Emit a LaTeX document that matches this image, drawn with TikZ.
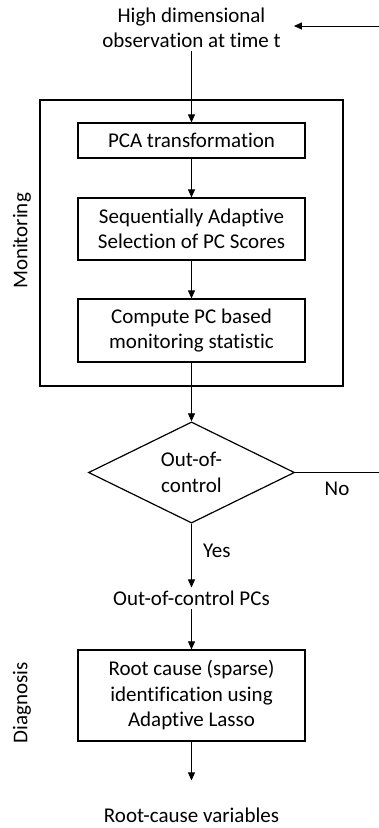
\documentclass[tikz,border=0pt]{standalone}
\usepackage{fontspec}
\setmainfont{Carlito}[Ligatures=NoCommon]
\usetikzlibrary{arrows.meta,shapes.geometric}
\begin{document}
\begin{tikzpicture}[x=1pt,y=-1pt,
  font=\fontsize{21}{25.5}\selectfont,
  stepbox/.style={draw,line width=1.2pt,minimum width=227pt,align=center,inner sep=0pt},
  plain/.style={align=center,inner sep=3pt},
  arr/.style={-{Triangle[length=8pt,width=7pt]},line width=0.8pt},
  side/.style={rotate=90}]
\useasboundingbox (0,0) rectangle (379,828);
\node (mon) [draw,line width=1.2pt,minimum width=303pt,minimum height=286pt] at (191.5,243) {};
\node (obs) [plain] at (191.5,28) {High dimensional\\observation at time t};
\node (pca) [stepbox,minimum height=35pt] at (191.5,140.5) {PCA transformation};
\node (sel) [stepbox,minimum height=62pt] at (191.5,229) {Sequentially Adaptive\\Selection of PC Scores};
\node (stat) [stepbox,minimum height=63pt] at (191.5,330.5) {Compute PC based\\monitoring statistic};
\node (dec) [draw,diamond,line width=1.2pt,minimum width=206pt,minimum height=81pt,inner sep=0pt,align=center] at (191.5,472.5) {Out-of-\\control};
\node (ocpc) [plain] at (191.5,598) {Out-of-control PCs};
\node (root) [stepbox,minimum height=91pt] at (191.5,695.5) {Root cause (sparse)\\identification using\\Adaptive Lasso};
\node (rcv) [plain] at (191.5,815) {Root-cause variables};
\node (monlab) [side] at (22,241) {Monitoring};
\node (diaglab) [side] at (22,703) {Diagnosis};
\coordinate (back) at (379,26);
\coordinate (noend) at (379,472.5);
\draw[arr,shorten >=10pt] (back) -- (obs.east |- back);
\draw[arr] (obs) -- (pca);
\draw[arr] (pca) -- (sel);
\draw[arr] (sel) -- (stat);
\draw[arr] (stat) -- (dec);
\draw[line width=0.8pt] (dec.east) -- (noend) node[midway,below=6pt] {No};
\draw[arr] (dec) -- (ocpc) node[pos=0.42,right=8pt] {Yes};
\draw[arr] (ocpc) -- (root);
\draw[arr,shorten >=24pt] (root) -- (rcv);
\end{tikzpicture}
\end{document}
